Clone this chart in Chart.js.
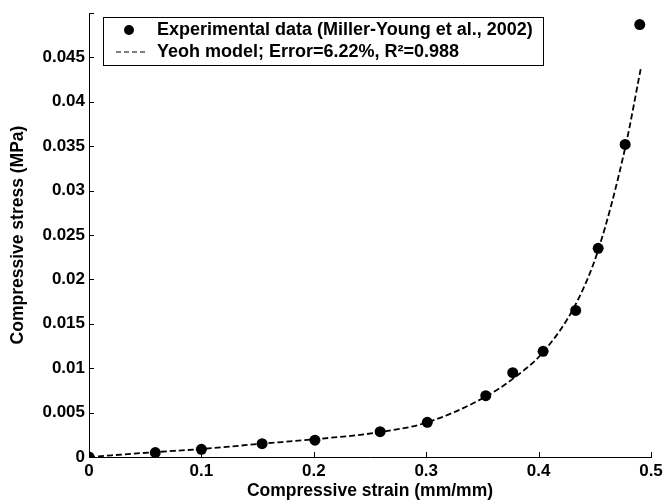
<!DOCTYPE html>
<html>
<head>
<meta charset="utf-8">
<script src="https://cdn.jsdelivr.net/npm/chart.js@4.4.1/dist/chart.umd.min.js"></script>
<style>
html,body{margin:0;padding:0;background:#fff;}
#wrap{width:664px;height:500px;position:relative;}
</style>
</head>
<body>
<div id="wrap"><canvas id="c" width="664" height="500"></canvas></div>
<script>
// ---- data ----
const strainExp = [0, 0.059, 0.100, 0.154, 0.201, 0.259, 0.301, 0.353, 0.377, 0.404, 0.433, 0.453, 0.477, 0.490];
const stressExp = [0, 0.0005, 0.00087, 0.0015, 0.0019, 0.00285, 0.0039, 0.0069, 0.0095, 0.0119, 0.0165, 0.0235, 0.0352, 0.0487];
const strainModel = [0, 0.059, 0.100, 0.154, 0.201, 0.259, 0.301, 0.353, 0.377, 0.404, 0.433, 0.453, 0.477, 0.491];
const stressModel = [0, 0.00055, 0.0009, 0.0015, 0.002, 0.0028, 0.0039, 0.0068, 0.0088, 0.0118, 0.0172, 0.0233, 0.0348, 0.0438];
const xTicks = [0, 0.1, 0.2, 0.3, 0.4, 0.5];
const yTicks = [0, 0.005, 0.01, 0.015, 0.02, 0.025, 0.03, 0.035, 0.04, 0.045, 0.05];
const yTickLabels = ['0', '0.005', '0.01', '0.015', '0.02', '0.025', '0.03', '0.035', '0.04', '0.045', ''];
const xTickLabels = ['0', '0.1', '0.2', '0.3', '0.4', '0.5'];
const labelExp = 'Experimental data (Miller-Young et al., 2002)';
const labelModel = 'Yeoh model; Error=6.22%, R\u00B2=0.988';

const FONT = "'Liberation Sans', Arial, sans-serif";

const expData = strainExp.map((x, i) => ({x: x, y: stressExp[i]}));
const modelData = strainModel.map((x, i) => ({x: x, y: stressModel[i]}));

const innerTicks = {
  id: 'innerTicks',
  afterDatasetsDraw(chart) {
    const ctx = chart.ctx, xs = chart.scales.x, ys = chart.scales.y, a = chart.chartArea;
    ctx.save();
    ctx.strokeStyle = '#000';
    ctx.lineWidth = 1;
    ctx.beginPath();
    xTicks.forEach(v => {
      const px = Math.round(xs.getPixelForValue(v)) + 0.5;
      ctx.moveTo(px, a.bottom); ctx.lineTo(px, a.bottom - 5);
    });
    yTicks.forEach(v => {
      const py = Math.round(ys.getPixelForValue(v)) + 0.5;
      ctx.moveTo(a.left, py); ctx.lineTo(a.left + 5, py);
    });
    ctx.stroke();
    ctx.restore();
  }
};

const boxLegend = {
  id: 'boxLegend',
  afterDraw(chart) {
    const ctx = chart.ctx;
    const ds = chart.data.datasets;
    ctx.save();
    ctx.fillStyle = '#fff';
    ctx.strokeStyle = '#000';
    ctx.lineWidth = 1;
    ctx.fillRect(103.5, 17.5, 440, 48);
    ctx.strokeRect(103.5, 17.5, 440, 48);
    // marker
    ctx.fillStyle = '#000';
    ctx.beginPath();
    ctx.arc(129, 30, 5, 0, Math.PI * 2);
    ctx.fill();
    // dashed line
    ctx.setLineDash([5, 3]);
    ctx.lineWidth = 1.2;
    ctx.beginPath();
    ctx.moveTo(116, 52); ctx.lineTo(147, 52);
    ctx.stroke();
    ctx.setLineDash([]);
    ctx.font = 'bold 18px ' + FONT;
    ctx.textBaseline = 'middle';
    ctx.textAlign = 'left';
    ctx.fillText(ds[0].label, 157, 30);
    ctx.fillText(ds[1].label, 157, 52);
    ctx.restore();
  }
};

new Chart(document.getElementById('c'), {
  type: 'scatter',
  data: {
    datasets: [
      {
        label: labelExp,
        data: expData,
        showLine: false,
        pointRadius: 5.5,
        pointHoverRadius: 5.5,
        pointBackgroundColor: '#000',
        pointBorderColor: '#000',
        pointBorderWidth: 0,
        order: 1
      },
      {
        label: labelModel,
        data: modelData,
        showLine: true,
        pointRadius: 0,
        borderColor: '#000',
        borderWidth: 1.8,
        borderDash: [6, 3],
        cubicInterpolationMode: 'monotone',
        fill: false,
        order: 2
      }
    ]
  },
  options: {
    responsive: false,
    animation: false,
    devicePixelRatio: 1,
    layout: {padding: {top: 13, right: 13, left: 0, bottom: 0}},
    plugins: {legend: {display: false}, tooltip: {enabled: false}},
    scales: {
      x: {
        type: 'linear', min: 0, max: 0.5,
        afterBuildTicks(s) { s.ticks = xTicks.map(v => ({value: v})); },
        afterFit(s) { s.height = 43; s.paddingRight = 0; s.paddingLeft = 0; },
        ticks: {
          color: '#000', padding: 6,
          font: {family: FONT, size: 17, weight: 'bold', lineHeight: 1},
          callback: (v, i) => xTickLabels[i],
          maxRotation: 0, autoSkip: false
        },
        grid: {display: true, drawOnChartArea: false, drawTicks: false},
        border: {display: true, color: '#000', width: 1},
        title: {
          display: true, text: 'Compressive strain (mm/mm)', color: '#000',
          font: {family: FONT, size: 17.5, weight: 'bold', lineHeight: 1}, padding: {top: 0, bottom: 0}
        }
      },
      y: {
        type: 'linear', min: 0, max: 0.05,
        afterBuildTicks(s) { s.ticks = yTicks.map(v => ({value: v})); },
        afterFit(s) { s.width = 89; s.paddingTop = 0; s.paddingBottom = 0; },
        ticks: {
          color: '#000', padding: 4,
          font: {family: FONT, size: 17, weight: 'bold', lineHeight: 1},
          callback: (v, i) => yTickLabels[i],
          autoSkip: false
        },
        grid: {display: true, drawOnChartArea: false, drawTicks: false},
        border: {display: true, color: '#000', width: 1},
        title: {
          display: true, text: 'Compressive stress (MPa)', color: '#000',
          font: {family: FONT, size: 17.5, weight: 'bold', lineHeight: 1}, padding: {top: 9, bottom: 0}
        }
      }
    }
  },
  plugins: [innerTicks, boxLegend]
});
</script>
</body>
</html>
